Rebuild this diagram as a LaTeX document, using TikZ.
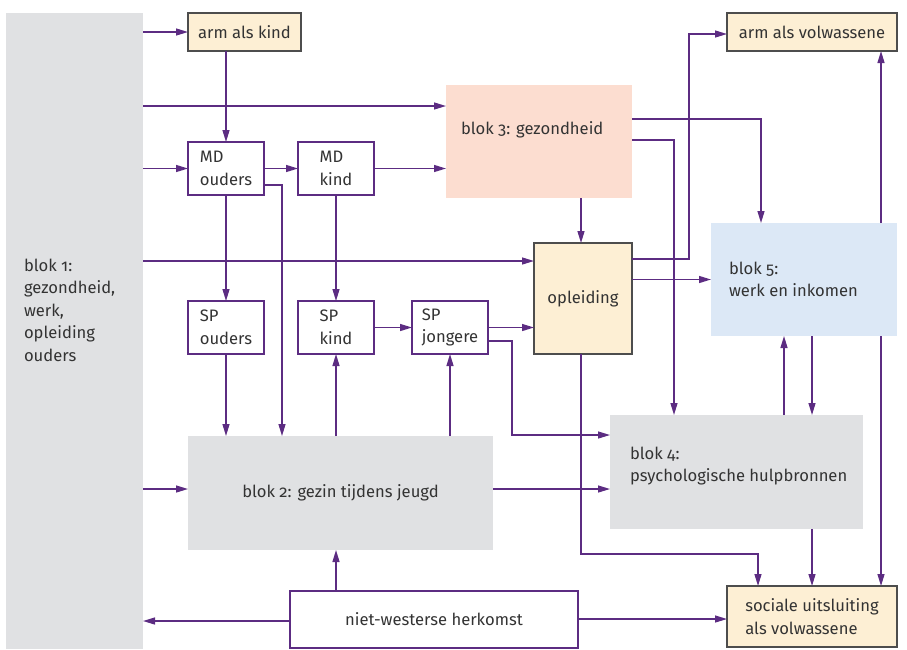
\documentclass[tikz,border=0pt]{standalone}
\usepackage{fontspec}
\setmainfont{Fira Sans}[Numbers=OldStyle]
\usepackage{xcolor}
\usetikzlibrary{arrows.meta}
\definecolor{paars}{RGB}{92,44,130}
\definecolor{creme}{RGB}{253,239,212}
\definecolor{zalm}{RGB}{252,221,208}
\definecolor{lichtblauw}{RGB}{220,232,246}
\definecolor{lichtgrijs}{RGB}{224,225,227}
\definecolor{tekst}{RGB}{51,51,51}
\definecolor{rand}{RGB}{77,77,77}

\begin{document}
\begin{tikzpicture}[x=1pt,y=-1pt,
    every node/.style={font=\fontsize{16.6}{22.5}\selectfont, text=tekst, inner sep=0pt, outer sep=0pt},
    box/.style={rectangle, draw=paars, line width=1.2pt, fill=white, align=left},
    uitkomst/.style={rectangle, draw=rand, line width=1.2pt, fill=creme, align=left},
    blok/.style={rectangle, align=left},
    arr/.style={draw=paars, line width=1.3pt, -{Triangle[length=12pt,width=7pt]}}]
  \useasboundingbox (0,0) rectangle (907,649);

  % blokken
  \node[blok, fill=lichtgrijs, minimum width=137pt, minimum height=636pt] (b1) at (74.5,331) {};
  \node[anchor=west, align=left] (b1t) at (24,310) {blok 1:\\gezondheid,\\werk,\\opleiding\\ouders};
  \node[blok, fill=zalm, minimum width=186pt, minimum height=113pt] (b3) at (539,141.5) {};
  \node[anchor=west] (b3t) at (461,130) {blok 3: gezondheid};
  \node[blok, fill=lichtblauw, minimum width=186pt, minimum height=113pt] (b5) at (804,279.5) {};
  \node[anchor=west, align=left] (b5t) at (729,279.5) {blok 5:\\werk en inkomen};
  \node[blok, fill=lichtgrijs, minimum width=305pt, minimum height=114pt] (b2) at (340.5,493) {blok 2: gezin tijdens jeugd};
  \node[blok, fill=lichtgrijs, minimum width=253pt, minimum height=114pt] (b4) at (736.5,472) {};
  \node[anchor=west, align=left] (b4t) at (630,466) {blok 4:\\psychologische hulpbronnen};

  % uitkomsten
  \node[uitkomst, minimum width=113pt, minimum height=38pt] (armk) at (244.5,32) {arm als kind};
  \node[uitkomst, minimum width=170pt, minimum height=38pt] (armv) at (812,32) {arm als volwassene};
  \node[uitkomst, minimum width=98pt, minimum height=111pt] (opl) at (583,298.5) {opleiding};
  \node[uitkomst, minimum width=170pt, minimum height=61pt] (soc) at (812,616.5) {sociale uitsluiting\\als volwassene};

  % kleine vakjes
  \node[box, minimum width=76pt, minimum height=53pt] (mdo) at (226,168.5) {MD\\ouders};
  \node[box, minimum width=76pt, minimum height=53pt] (mdk) at (336,168.5) {MD\\kind};
  \node[box, minimum width=76pt, minimum height=53pt] (spo) at (226,327.5) {SP\\ouders};
  \node[box, minimum width=76pt, minimum height=53pt] (spk) at (336,327.5) {SP\\kind};
  \node[box, minimum width=76pt, minimum height=53pt] (spj) at (450,327.5) {SP\\jongere};
  \node[box, minimum width=288pt, minimum height=57pt] (nwh) at (434,619.5) {niet-westerse herkomst};

  % pijlen
  \draw[arr] (b1.east |- armk) -- (armk);
  \draw[arr] (b1.east |- 0,106) -- (b3.west |- 0,106);
  \draw[arr] (mdo |- armk.south) -- (mdo);
  \draw[arr] (b1.east |- mdo) -- (mdo);
  \draw[arr] (mdo) -- (mdk);
  \draw[arr] (mdk) -- (b3.west |- mdk);
  \draw[arr] (mdo.east |- 0,185) -| (b2.north -| 282,0);
  \draw[arr] (mdo) -- (spo);
  \draw[arr] (mdk) -- (spk);
  \draw[arr] (b1.east |- 0,261) -- (opl.west |- 0,261);
  \draw[arr] (spo) -- (spo |- b2.north);
  \draw[arr] (b2.north -| spk) -- (spk);
  \draw[arr] (b2.north -| spj) -- (spj);
  \draw[arr] (spk) -- (spj);
  \draw[arr] (spj) -- (opl.west |- spj);
  \draw[arr] (spj.east |- 0,341) -- (512,341) |- (b4.west |- 0,435);
  \draw[arr] (b3.south -| 581,0) -- (opl.north -| 581,0);
  \draw[arr] (b3.east |- 0,119) -| (b5.north -| 761,0);
  \draw[arr] (b3.east |- 0,140) -| (b4.north -| 674,0);
  \draw[arr] (opl.east |- 0,259) -| (689,34) -- (armv.west |- 0,34);
  \draw[arr] (opl.east |- b5) -- (b5);
  \draw[arr] (b5.north -| 881,0) -- (armv.south -| 881,0);
  \draw[arr] (b4.north -| 784,0) -- (b5.south -| 784,0);
  \draw[arr] (b5.south -| soc) -- (b4.north -| soc);
  \draw[arr] (b5.south -| 881,0) -- (soc.north -| 881,0);
  \draw[arr] (opl.south -| 581,0) |- (758,554) -- (soc.north -| 758,0);
  \draw[arr] (b4.south -| soc) -- (soc);
  \draw[arr] (b1.east |- 0,489) -- (b2.west |- 0,489);
  \draw[arr] (b2.east |- 0,489) -- (b4.west |- 0,489);
  \draw[arr] (nwh.north -| spk) -- (b2.south -| spk);
  \draw[arr] (nwh.west |- 0,621) -- (b1.east |- 0,621);
  \draw[arr] (nwh.east |- 0,619) -- (soc.west |- 0,619);
\end{tikzpicture}
\end{document}
